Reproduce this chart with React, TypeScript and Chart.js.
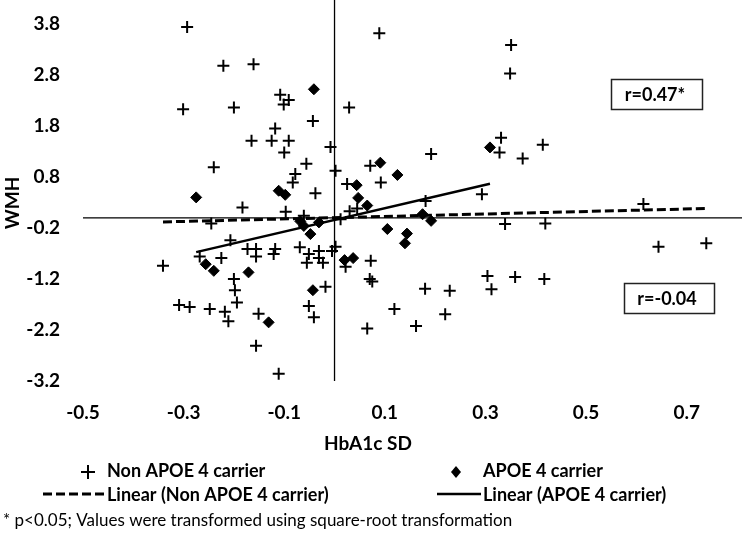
import React, { useEffect, useRef } from 'react';
import { Chart, registerables } from 'chart.js';

Chart.register(...registerables);

// ---- data ----
const nonApoeX = [
  -0.293, -0.221, -0.161, -0.301, -0.2, -0.165, -0.125, -0.091, -0.24, -0.183,
  0.089, -0.108, -0.091, -0.101, 0.029, -0.118, -0.043, -0.1, -0.008, -0.056,
  0.002, -0.078, -0.083, -0.038, 0.071, 0.092, 0.025, -0.097, 0.03, 0.045,
  -0.061, 0.012, -0.245, -0.207, -0.341, -0.268, -0.225, -0.173, -0.156, -0.156,
  -0.118, -0.121, -0.069, -0.051, -0.055, -0.031, -0.031, -0.023, -0.005, 0.002,
  0.022, 0.072, 0.07, 0.075, -0.018, -0.051, -0.041, -0.111, 0.065, -0.2,
  -0.198, -0.194, -0.309, -0.288, -0.248, -0.218, -0.211, -0.151, -0.156, 0.192,
  0.331, 0.328, 0.374, 0.414, 0.293, 0.181, 0.339, 0.419, 0.304, 0.359,
  0.312, 0.18, 0.229, 0.119, 0.22, 0.162, 0.417, 0.644, 0.739, 0.614,
  0.351, 0.349,
];
const nonApoeY = [
  3.74, 2.98, 3.01, 2.13, 2.16, 1.51, 1.51, 1.51, 0.99, 0.2,
  3.62, 2.41, 2.31, 2.22, 2.16, 1.75, 1.9, 1.28, 1.39, 1.06,
  0.92, 0.86, 0.69, 0.48, 1.02, 0.69, 0.66, 0.12, 0.13, 0.18,
  0.04, -0.03, -0.11, -0.44, -0.94, -0.76, -0.79, -0.61, -0.61, -0.76,
  -0.61, -0.71, -0.58, -0.71, -0.88, -0.65, -0.79, -0.88, -0.65, -0.57,
  -0.96, -0.84, -1.2, -1.25, -1.35, -1.73, -1.95, -3.06, -2.17, -1.2,
  -1.42, -1.66, -1.71, -1.75, -1.79, -1.84, -2.03, -1.88, -2.51, 1.25,
  1.57, 1.28, 1.16, 1.43, 0.46, 0.33, -0.12, -0.11, -1.14, -1.16,
  -1.4, -1.39, -1.43, -1.79, -1.89, -2.12, -1.2, -0.57, -0.5, 0.27,
  3.39, 2.83,
];
const apoeX = [
  -0.275, -0.041, -0.111, -0.098, 0.091, 0.044, 0.047, 0.065, -0.068, -0.061,
  -0.031, -0.048, 0.105, 0.02, 0.037, -0.043, -0.131, -0.256, -0.24, -0.171,
  0.125, 0.309, 0.175, 0.192, 0.144, 0.14,
];
const apoeY = [
  0.4, 2.52, 0.53, 0.45, 1.08, 0.64, 0.39, 0.24, -0.07, -0.16,
  -0.09, -0.32, -0.22, -0.83, -0.79, -1.42, -2.05, -0.91, -1.04, -1.07,
  0.84, 1.38, 0.07, -0.06, -0.31, -0.5,
];
const xTicks = [-0.5, -0.3, -0.1, 0.1, 0.3, 0.5, 0.7];
const yTicks = [-3.2, -2.2, -1.2, -0.2, 0.8, 1.8, 2.8, 3.8];
const xTitle = 'HbA1c SD';
const yTitle = 'WMH';
const seriesNames = ['Non APOE 4 carrier', 'APOE 4 carrier'];
const trendNames = ['Linear (Non APOE 4 carrier)', 'Linear (APOE 4 carrier)'];
const rLabels = ['r=0.47*', 'r=-0.04'];
const footnote = '* p<0.05; Values were transformed using square-root transformation';

const FONT = 'Lato, "Liberation Sans", sans-serif';

function toPoints(xs: number[], ys: number[]) {
  return xs.map((x, i) => ({ x, y: ys[i] }));
}

// least-squares linear trend over the data range (Excel "Linear" trendline)
function trend(xs: number[], ys: number[]) {
  const n = xs.length;
  const mx = xs.reduce((a, b) => a + b, 0) / n;
  const my = ys.reduce((a, b) => a + b, 0) / n;
  let sxy = 0;
  let sxx = 0;
  for (let i = 0; i < n; i++) {
    sxy += (xs[i] - mx) * (ys[i] - my);
    sxx += (xs[i] - mx) * (xs[i] - mx);
  }
  const b = sxy / sxx;
  const a = my - b * mx;
  const lo = Math.min(...xs);
  const hi = Math.max(...xs);
  return [
    { x: lo, y: a + b * lo },
    { x: hi, y: a + b * hi },
  ];
}

export default function App() {
  const ref = useRef<HTMLCanvasElement>(null);

  useEffect(() => {
    const canvas = ref.current;
    if (!canvas) return;

    const overlay = {
      id: 'overlay',
      beforeDatasetsDraw(chart: any) {
        const { ctx, chartArea, scales } = chart;
        const x0 = scales.x.getPixelForValue(0);
        const y0 = scales.y.getPixelForValue(0);
        ctx.save();
        ctx.strokeStyle = '#000';
        ctx.lineWidth = 1.3;
        ctx.beginPath();
        ctx.moveTo(chartArea.left, y0);
        ctx.lineTo(chartArea.right, y0);
        ctx.moveTo(x0, chartArea.top);
        ctx.lineTo(x0, chartArea.bottom);
        ctx.stroke();
        ctx.restore();
      },
      afterDraw(chart: any) {
        const { ctx } = chart;
        ctx.save();
        ctx.fillStyle = '#000';
        ctx.strokeStyle = '#000';
        ctx.textBaseline = 'middle';

        // axis titles
        ctx.font = `bold 19px ${FONT}`;
        ctx.textAlign = 'center';
        ctx.fillText(xTitle, 368, 444);
        ctx.save();
        ctx.translate(13, 203);
        ctx.rotate(-Math.PI / 2);
        ctx.fillText(yTitle, 0, 0);
        ctx.restore();

        // r boxes
        ctx.font = `bold 18px ${FONT}`;
        ctx.lineWidth = 1.5;
        ctx.strokeStyle = '#222';
        ctx.strokeRect(611.5, 79.5, 91, 30);
        ctx.strokeRect(624.5, 283.5, 90, 30);
        ctx.fillText(rLabels[0], 655, 95);
        ctx.fillText(rLabels[1], 667, 299);

        // legend
        ctx.textAlign = 'left';
        ctx.strokeStyle = '#000';
        // cross marker
        ctx.lineWidth = 2;
        ctx.beginPath();
        ctx.moveTo(81, 472);
        ctx.lineTo(95, 472);
        ctx.moveTo(88, 465);
        ctx.lineTo(88, 479);
        ctx.stroke();
        ctx.fillText(seriesNames[0], 107, 471);
        // diamond marker
        ctx.beginPath();
        ctx.moveTo(456, 466);
        ctx.lineTo(461, 472);
        ctx.lineTo(456, 478);
        ctx.lineTo(451, 472);
        ctx.closePath();
        ctx.fill();
        ctx.fillText(seriesNames[1], 483, 471);
        // dashed trend sample
        ctx.lineWidth = 3;
        ctx.setLineDash([9, 4]);
        ctx.beginPath();
        ctx.moveTo(43, 494);
        ctx.lineTo(104, 494);
        ctx.stroke();
        ctx.setLineDash([]);
        ctx.fillText(trendNames[0], 107, 495);
        // solid trend sample
        ctx.lineWidth = 2.5;
        ctx.beginPath();
        ctx.moveTo(437, 494);
        ctx.lineTo(481, 494);
        ctx.stroke();
        ctx.fillText(trendNames[1], 483, 495);

        // footnote
        ctx.font = `17px ${FONT}`;
        ctx.fillText(footnote, 3, 521);
        ctx.restore();
      },
    };

    const tickFont = { family: FONT, size: 19, weight: 'bold' as const };
    const noPad = (scale: any) => {
      scale.paddingTop = 0;
      scale.paddingBottom = 0;
      scale.paddingLeft = 0;
      scale.paddingRight = 0;
    };

    const chart = new Chart(canvas, {
      type: 'scatter',
      data: {
        datasets: [
          {
            label: seriesNames[0],
            data: toPoints(nonApoeX, nonApoeY),
            pointStyle: 'cross',
            pointRadius: 6,
            pointBorderWidth: 2,
            borderColor: '#000',
            backgroundColor: '#000',
          },
          {
            label: seriesNames[1],
            data: toPoints(apoeX, apoeY),
            pointStyle: 'rectRot',
            pointRadius: 5.5,
            pointBorderWidth: 1,
            borderColor: '#000',
            backgroundColor: '#000',
          },
          {
            label: trendNames[0],
            data: trend(nonApoeX, nonApoeY),
            showLine: true,
            pointRadius: 0,
            borderColor: '#000',
            borderWidth: 3,
            borderDash: [9, 4],
          },
          {
            label: trendNames[1],
            data: trend(apoeX, apoeY),
            showLine: true,
            pointRadius: 0,
            borderColor: '#000',
            borderWidth: 2.5,
          },
        ],
      },
      options: {
        responsive: false,
        maintainAspectRatio: false,
        animation: false,
        devicePixelRatio: 1,
        events: [],
        layout: { padding: 0, autoPadding: false },
        plugins: {
          legend: { display: false },
          tooltip: { enabled: false },
        },
        scales: {
          x: {
            type: 'linear',
            min: -0.5,
            max: 0.81,
            afterBuildTicks: (axis: any) => {
              axis.ticks = xTicks.map((value) => ({ value }));
            },
            afterFit: (scale: any) => {
              scale.height = 156;
              noPad(scale);
            },
            grid: { display: false, drawTicks: false },
            border: { display: false },
            ticks: {
              padding: 20,
              color: '#000',
              font: tickFont,
              autoSkip: false,
              maxRotation: 0,
              callback: (v: any) => Number(v).toFixed(1),
            },
          },
          y: {
            type: 'linear',
            min: -3.2,
            max: 4.27,
            afterBuildTicks: (axis: any) => {
              axis.ticks = yTicks.map((value) => ({ value }));
            },
            afterFit: (scale: any) => {
              scale.width = 83;
              noPad(scale);
            },
            grid: { display: false, drawTicks: false },
            border: { display: false },
            ticks: {
              padding: 23,
              color: '#000',
              font: tickFont,
              autoSkip: false,
              callback: (v: any) => Number(v).toFixed(1),
            },
          },
        },
      },
      plugins: [overlay],
    });

    return () => chart.destroy();
  }, []);

  return (
    <div
      style={{
        position: 'absolute',
        left: 0,
        top: 0,
        width: 742,
        height: 537,
        background: '#fff',
      }}
    >
      <canvas ref={ref} width={742} height={537} style={{ display: 'block', width: 742, height: 537 }} />
    </div>
  );
}
